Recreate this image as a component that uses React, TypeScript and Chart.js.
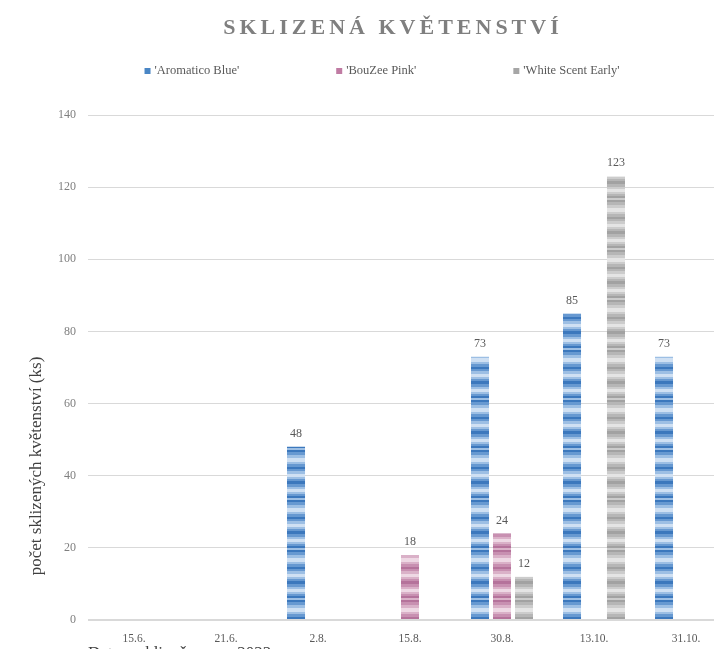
import React, { useEffect, useRef } from 'react';
import { Chart, registerables } from 'chart.js';

Chart.register(...registerables);

const categories = ['15.6.', '21.6.', '2.8.', '15.8.', '30.8.', '13.10.', '31.10.'];
const seriesNames = ["'Aromatico Blue'", "'BouZee Pink'", "'White Scent Early'"];
const aromaticoBlue = [null, null, 48, null, 73, 85, 73];
const bouZeePink = [null, null, null, 18, 24, null, null];
const whiteScentEarly = [null, null, null, null, 12, 123, null];
const yMax = 140;
const yStep = 20;
const chartTitle = 'SKLIZENÁ KVĚTENSTVÍ';
const yTitle = 'počet sklizených květenství (ks)';
const xTitle = 'Datum sklizně v roce 2022';

const SERIF = '"Liberation Serif", "DejaVu Serif", serif';

const blueShades = ['#3c78bd', '#6799d1', '#9dbfe4', '#cfe0f3'];
const pinkShades = ['#b5739b', '#c890b1', '#dab1c8', '#eed8e4'];
const greyShades = ['#a2a2a2', '#b6b6b6', '#cccccc', '#e4e4e4'];
const legendColors = ['#4a86c5', '#c07ba3', '#a6a6a6'];

// stripe texture: [shade level, stripe height]
const stripes: [number, number][] = [
  [0, 2], [1, 3], [2, 3], [3, 4], [2, 2], [1, 3], [0, 2], [1, 2], [2, 3], [3, 3],
  [2, 2], [1, 2], [0, 3], [1, 3], [2, 2], [3, 3], [2, 2], [1, 2], [0, 2], [2, 2],
];

function makePattern(shades: string[]): CanvasPattern | string {
  const total = stripes.reduce((s, st) => s + st[1], 0);
  const c = document.createElement('canvas');
  c.width = 4;
  c.height = total;
  const g = c.getContext('2d');
  if (!g) return shades[1];
  let y = 0;
  for (const [lvl, h] of stripes) {
    g.fillStyle = shades[lvl];
    g.fillRect(0, y, 4, h);
    y += h;
  }
  const p = g.createPattern(c, 'repeat');
  return p || shades[1];
}

const valueLabels = {
  id: 'valueLabels',
  afterDatasetsDraw(chart: any) {
    const ctx = chart.ctx;
    ctx.save();
    ctx.font = `12px ${SERIF}`;
    ctx.fillStyle = '#595959';
    ctx.textAlign = 'center';
    ctx.textBaseline = 'bottom';
    chart.data.datasets.forEach((ds: any, i: number) => {
      const meta = chart.getDatasetMeta(i);
      meta.data.forEach((el: any, j: number) => {
        const v = ds.data[j];
        if (v === null || v === undefined) return;
        ctx.fillText(String(v), el.x, el.y - 7);
      });
    });
    ctx.restore();
  },
};

const decorations = {
  id: 'decorations',
  afterDraw(chart: any) {
    const ctx = chart.ctx;
    // title
    ctx.save();
    ctx.font = `bold 22px ${SERIF}`;
    (ctx as any).letterSpacing = '4px';
    ctx.fillStyle = '#7f7f7f';
    ctx.textAlign = 'center';
    ctx.textBaseline = 'middle';
    ctx.fillText(chartTitle, 393, 28);
    ctx.restore();

    // legend
    ctx.save();
    ctx.font = `12.5px ${SERIF}`;
    ctx.textBaseline = 'middle';
    ctx.textAlign = 'left';
    const box = 6;
    const gapText = 4;
    const gapItems = 97;
    const widths = chart.data.datasets.map((ds: any) => box + gapText + ctx.measureText(ds.label).width);
    const total = widths.reduce((a: number, b: number) => a + b, 0) + gapItems * (widths.length - 1);
    let x = 382 - total / 2;
    const y = 71;
    chart.data.datasets.forEach((ds: any, i: number) => {
      ctx.fillStyle = legendColors[i];
      ctx.fillRect(x, y - box / 2, box, box);
      ctx.fillStyle = '#595959';
      ctx.fillText(ds.label, x + box + gapText, y);
      x += widths[i] + gapItems;
    });
    ctx.restore();

    // y title
    ctx.save();
    ctx.translate(37, 466);
    ctx.rotate(-Math.PI / 2);
    ctx.font = `17px ${SERIF}`;
    ctx.fillStyle = '#404040';
    ctx.textAlign = 'center';
    ctx.textBaseline = 'middle';
    ctx.fillText(yTitle, 0, 0);
    ctx.restore();
  },
};

export default function App() {
  const ref = useRef<HTMLCanvasElement | null>(null);

  useEffect(() => {
    if (!ref.current) return;
    const chart = new Chart(ref.current, {
      type: 'bar',
      data: {
        labels: categories,
        datasets: [
          { label: seriesNames[0], data: aromaticoBlue, backgroundColor: makePattern(blueShades) as any },
          { label: seriesNames[1], data: bouZeePink, backgroundColor: makePattern(pinkShades) as any },
          { label: seriesNames[2], data: whiteScentEarly, backgroundColor: makePattern(greyShades) as any },
        ],
      },
      options: {
        responsive: false,
        animation: false,
        devicePixelRatio: 1,
        layout: { padding: { left: 0, right: 0, top: 115, bottom: 0 } },
        datasets: { bar: { categoryPercentage: 0.717, barPercentage: 0.82 } },
        plugins: {
          legend: { display: false },
          title: { display: false },
          tooltip: { enabled: false },
        },
        scales: {
          x: {
            type: 'category',
            position: 'bottom',
            grid: { display: false, drawTicks: false },
            border: { display: false },
            ticks: {
              autoSkip: false,
              maxRotation: 0,
              padding: 12,
              color: '#595959',
              font: { family: SERIF, size: 11.5 },
            },
            title: {
              display: true,
              text: xTitle,
              align: 'start',
              color: '#404040',
              font: { family: SERIF, size: 17 },
              padding: { top: 0, bottom: 0 },
            },
            afterFit: (s: any) => { s.height = 44; },
          },
          y: {
            min: 0,
            max: yMax,
            ticks: {
              stepSize: yStep,
              padding: 12,
              color: '#7f7f7f',
              font: { family: SERIF, size: 12 },
            },
            grid: {
              color: '#d9d9d9',
              drawTicks: false,
              lineWidth: (c: any) => (c.tick && c.tick.value === 0 ? 2 : 1),
            },
            border: { display: false },
            afterFit: (s: any) => { s.width = 88; },
          },
        },
      },
      plugins: [valueLabels, decorations],
    });
    return () => chart.destroy();
  }, []);

  return (
    <div style={{ margin: '-8px', width: 722, height: 657, overflow: 'hidden', position: 'relative', background: '#fff' }}>
      <canvas ref={ref} width={732} height={664} style={{ display: 'block', width: 732, height: 664 }} />
    </div>
  );
}
